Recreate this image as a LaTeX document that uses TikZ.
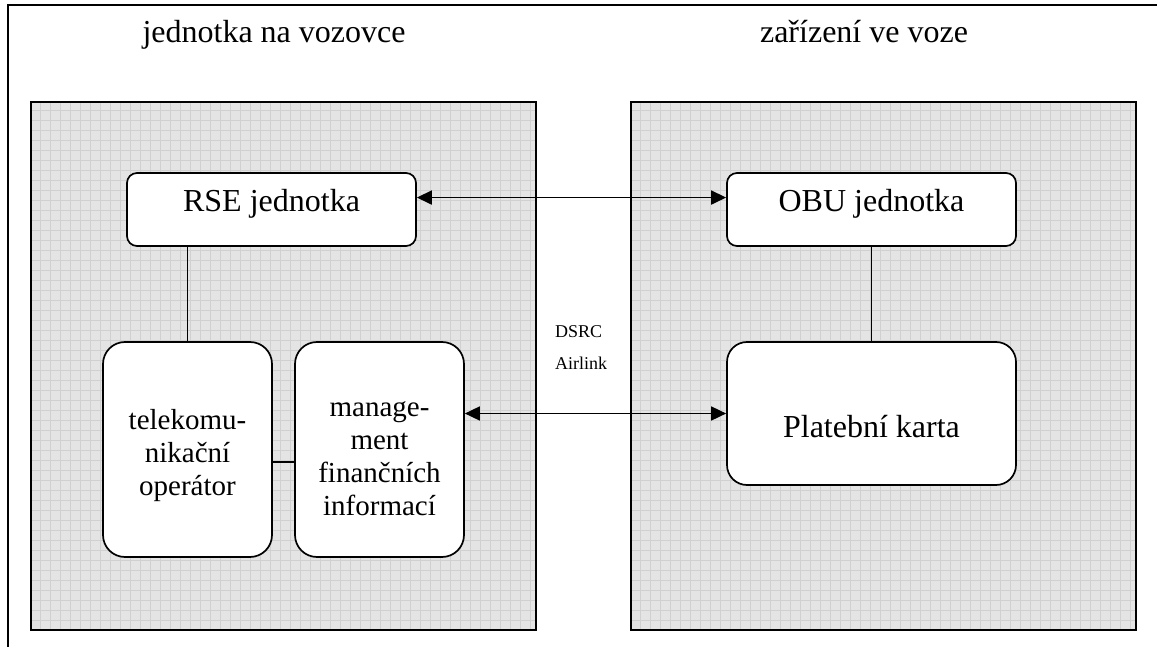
\documentclass[tikz,border=0pt]{standalone}
\usepackage{fontspec}
\setmainfont{Liberation Serif}
\usetikzlibrary{arrows.meta,calc}
\definecolor{panelfill}{RGB}{228,228,228}
\definecolor{panelgrid}{RGB}{208,208,208}

\begin{document}
\begin{tikzpicture}[x=1pt,y=-1pt,
  frame/.style={line width=2pt, black},
  panelborder/.style={draw=black, line width=2.6pt},
  unit/.style={draw=black, line width=1.7pt, fill=white, rounded corners=10pt,
    inner sep=0pt, font=\fontsize{32}{38}\selectfont,
    text height=20pt, text depth=15pt, minimum width=289pt, minimum height=73pt},
  block/.style={draw=black, line width=1.7pt, fill=white, rounded corners=22pt,
    inner sep=0pt, align=center, font=\fontsize{29}{33}\selectfont,
    minimum width=169pt, minimum height=215pt, text depth=6pt},
  heading/.style={anchor=base, inner sep=0pt, font=\fontsize{32}{38}\selectfont},
  link/.style={line width=1.7pt},
  dualarrow/.style={line width=1.7pt,
    {Triangle[length=15pt,width=14pt]}-{Triangle[length=15pt,width=14pt]}},
]
\useasboundingbox (0,0) rectangle (1157,647);

% outer frame (top and left edges)
\draw[frame] (1157,5) -- (8,5) -- (8,647);

% shaded panels with a fine grid
\foreach \xa/\xb in {31/536, 631/1136} {
  \begin{scope}
    \clip (\xa,102) rectangle (\xb,630);
    \fill[panelfill] (\xa,102) rectangle (\xb,630);
    \draw[panelgrid, line width=0.8pt, step=10pt] (\xa,102) grid (\xb,630);
  \end{scope}
  \draw[panelborder] (\xa,102) rectangle (\xb,630);
}

% headings
\node[heading] (lefthead) at (274,43) {jednotka na vozovce};
\node[heading] (righthead) at (864,43) {zařízení ve voze};

% units
\node[unit] (rse) at (271.5,209.5) {RSE jednotka};
\node[unit] (obu) at (871.5,209.5) {OBU jednotka};
\node[unit, minimum height=143pt, rounded corners=20pt, text height=53pt, text depth=6pt]
  (karta) at (871.5,413.5) {Platební karta};
% multi-line text sits on its last baseline, so text height sets where it lands
\node[block, text height=97pt] (tel) at (187.5,449.5) {telekomu-\\nikační\\operátor};
\node[block, text height=137pt] (mgmt) at (379.5,449.5) {manage-\\ment\\finančních\\informací};

% link label
\node[anchor=base west, inner sep=0pt, align=left, font=\fontsize{18}{32}\selectfont]
  (dsrc) at (555,369) {DSRC\\Airlink};

% connectors
\draw[link] (tel.north) -- (tel.north |- rse.south);
\draw[link] (obu.south) -- (karta.north);
\draw[link] ($(tel.east)+(0,12.5)$) -- ($(mgmt.west)+(0,12.5)$);
\draw[dualarrow] ($(rse.north east)!0.34!(rse.south east)$) -- ($(obu.north west)!0.34!(obu.south west)$);
\draw[dualarrow] (mgmt.east |- karta.west) -- (karta.west);
\end{tikzpicture}
\end{document}
